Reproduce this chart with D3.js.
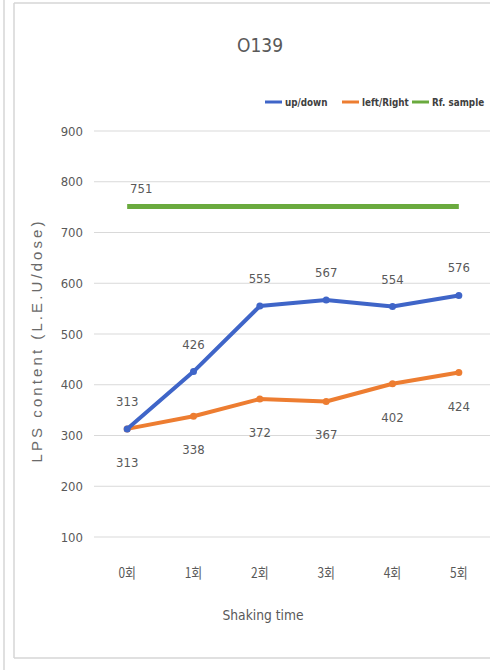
<!DOCTYPE html>
<html>
<head>
<meta charset="utf-8">
<script src="https://cdn.jsdelivr.net/npm/d3@7"></script>
<style>
  html, body { margin: 0; padding: 0; background: #fff; }
  svg { display: block; }
  text { fill: #595959; }
  .narrow { font-family: "DejaVu Sans", sans-serif; }
</style>
</head>
<body>
<svg id="chart" width="490" height="670"></svg>
<script>
// Shaking rounds on the x axis
const categories = ["0회", "1회", "2회", "3회", "4회", "5회"];
// LPS content per round (L.E.U/dose)
const upDown = [313, 426, 555, 567, 554, 576];
const leftRight = [313, 338, 372, 367, 402, 424];
const rfSample = [751, 751, 751, 751, 751, 751];
const yTicks = [100, 200, 300, 400, 500, 600, 700, 800, 900];

const series = [
  { name: "up/down", values: upDown, color: "#3f65c8", width: 4, labelPos: "above", markers: true },
  { name: "left/Right", values: leftRight, color: "#ed7d31", width: 4, labelPos: "below", markers: true },
  { name: "Rf. sample", values: rfSample, color: "#6aaa3e", width: 5, labelPos: "first", markers: false }
];

const svg = d3.select("#chart");

// squeeze a text horizontally about its own anchor point
function squeeze(sel, k, px, py) {
  sel.attr("x", 0).attr("y", 0)
    .attr("transform", `translate(${px},${py}) scale(${k},1)`);
}

// frame lines around the chart object
const frame = svg.append("g").attr("stroke", "#d6d6d6").attr("stroke-width", 1.5).attr("fill", "none");
frame.append("line").attr("x1", 4).attr("x2", 4).attr("y1", 0).attr("y2", 670);
frame.append("line").attr("x1", 14).attr("x2", 14).attr("y1", 3).attr("y2", 658);
frame.append("line").attr("x1", 14).attr("x2", 490).attr("y1", 3).attr("y2", 3);
frame.append("line").attr("x1", 14).attr("x2", 490).attr("y1", 658).attr("y2", 658);

const x = d3.scaleBand().domain(categories).range([94, 492]);
const cx = c => x(c) + x.bandwidth() / 2;
const y = d3.scaleLinear().domain([100, 900]).range([537, 131]);

// horizontal gridlines
svg.append("g")
  .selectAll("line").data(yTicks).join("line")
  .attr("x1", 94).attr("x2", 492)
  .attr("y1", d => y(d)).attr("y2", d => y(d))
  .attr("stroke", "#d9d9d9").attr("stroke-width", 1.2);

// y axis tick labels
const yAxis = d3.axisLeft(y).tickValues(yTicks).tickSize(0).tickPadding(11);
const gy = svg.append("g").attr("transform", "translate(94,0)").call(yAxis);
gy.select(".domain").remove();
gy.selectAll("text").attr("class", "narrow").attr("font-family", null)
  .style("font-size", "13px").style("fill", "#595959")
  .attr("transform", "translate(-11,0) scale(0.9,1)").attr("x", 0);

// x axis category labels
const xAxis = d3.axisBottom(x).tickSize(0).tickPadding(0);
const gx = svg.append("g").attr("transform", "translate(0,568)").call(xAxis);
gx.select(".domain").remove();
gx.selectAll("text").style("font-size", "14px").style("fill", "#595959")
  .style("font-family", "'Noto Sans CJK KR', sans-serif")
  .attr("transform", "scale(0.85,1)");

// title
svg.append("text").attr("class", "narrow").attr("text-anchor", "middle")
  .style("font-size", "19px").text("O139").call(squeeze, 0.9, 260, 52);

// axis titles
svg.append("text").attr("class", "narrow").attr("text-anchor", "middle")
  .style("font-size", "14.5px").text("Shaking time").call(squeeze, 0.85, 263, 620);
svg.append("text")
  .attr("transform", "translate(42,342) rotate(-90)")
  .attr("text-anchor", "middle")
  .style("font-family", "'Liberation Sans', Arial, sans-serif")
  .style("font-size", "15px")
  .style("fill", "#6a6a6a")
  .attr("textLength", 241).attr("lengthAdjust", "spacing")
  .text("LPS content (L.E.U/dose)");

// series lines and markers
const line = d3.line().x((d, i) => cx(categories[i])).y(d => y(d));
series.slice().reverse().forEach(s => {
  svg.append("path").datum(s.values)
    .attr("d", line).attr("fill", "none")
    .attr("stroke", s.color).attr("stroke-width", s.width)
    .attr("stroke-linejoin", "round").attr("stroke-linecap", "butt");
  if (s.markers) {
    svg.append("g").selectAll("circle").data(s.values).join("circle")
      .attr("cx", (d, i) => cx(categories[i])).attr("cy", d => y(d))
      .attr("r", 3.5).attr("fill", s.color);
  }
});

// data labels
const labels = svg.append("g").attr("text-anchor", "middle");
series.forEach(s => {
  if (s.labelPos === "first") {
    labels.append("text").attr("class", "narrow").style("font-size", "13px")
      .text(s.values[0])
      .call(squeeze, 0.9, cx(categories[0]) + 14, y(s.values[0]) - 14);
    return;
  }
  s.values.forEach((d, i) => {
    labels.append("text").attr("class", "narrow").style("font-size", "13px")
      .text(d)
      .call(squeeze, 0.9, cx(categories[i]), s.labelPos === "above" ? y(d) - 23 : y(d) + 38);
  });
});

// legend
const legend = svg.append("g");
const legendItems = [
  { x: 265, s: series[0] },
  { x: 342, s: series[1] },
  { x: 412, s: series[2] }
];
legendItems.forEach(it => {
  legend.append("line").attr("x1", it.x).attr("x2", it.x + 17)
    .attr("y1", 102).attr("y2", 102)
    .attr("stroke", it.s.color).attr("stroke-width", 3);
  legend.append("text").attr("class", "narrow")
    .style("font-size", "11px").style("font-weight", "bold")
    .style("fill", "#404040").text(it.s.name)
    .call(squeeze, 0.8, it.x + 20, 106);
});
</script>
</body>
</html>
